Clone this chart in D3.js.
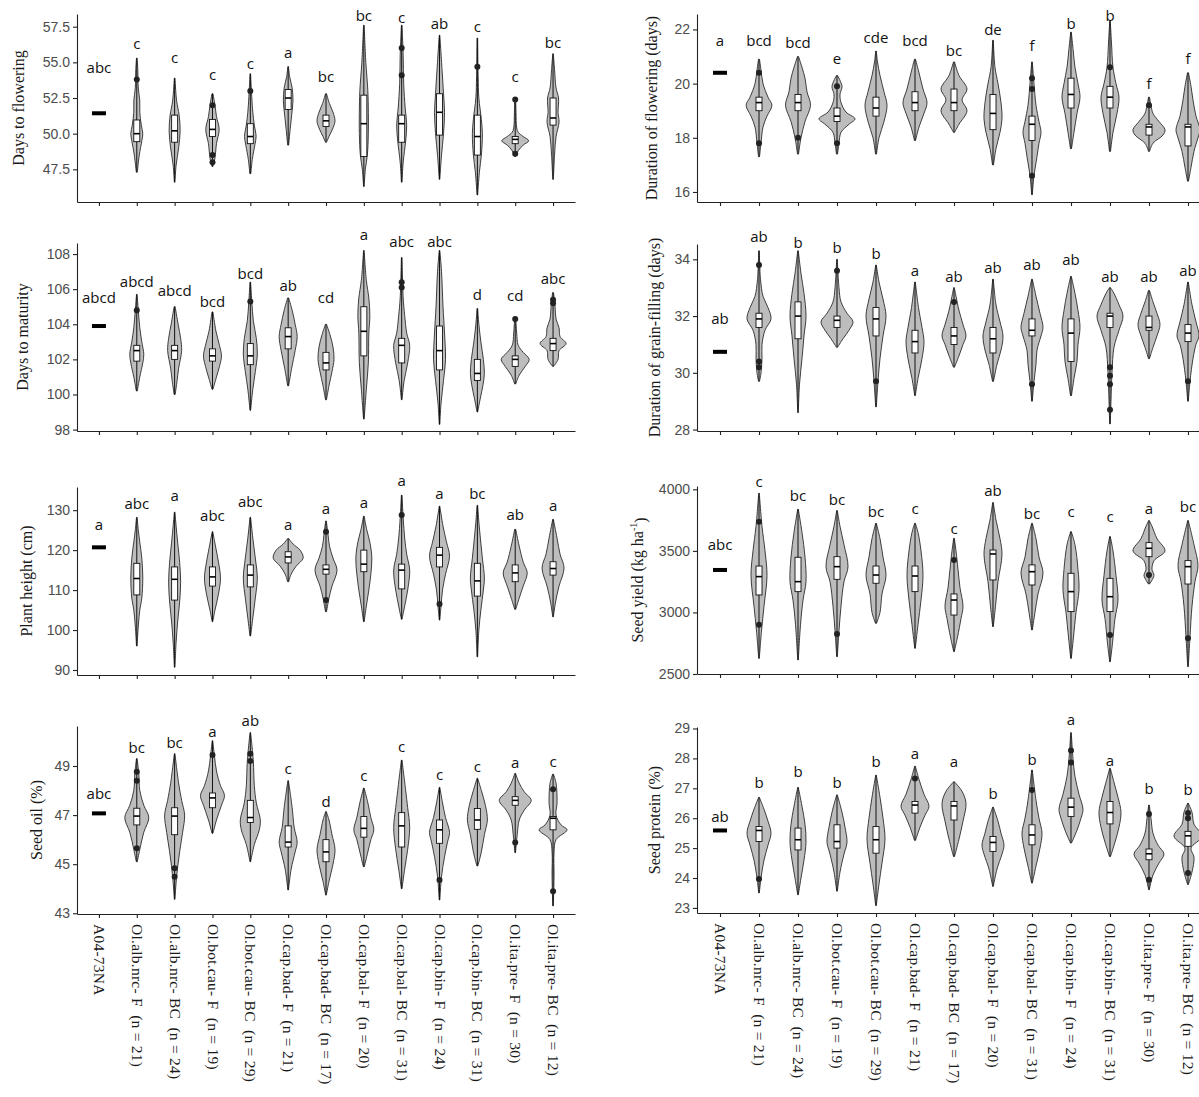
<!DOCTYPE html>
<html><head><meta charset="utf-8">
<script src="https://cdn.jsdelivr.net/npm/d3@7"></script>
<style>body{margin:0;background:#fff}</style>
</head><body>
<svg id="c" width="1199" height="1097"></svg>
<script>
const categories = ["A04-73NA","Ol.alb.nrc- F  (n = 21)","Ol.alb.nrc- BC  (n = 24)","Ol.bot.cau- F  (n = 19)","Ol.bot.cau- BC  (n = 29)","Ol.cap.bad- F  (n = 21)","Ol.cap.bad- BC  (n = 17)","Ol.cap.bal- F  (n = 20)","Ol.cap.bal- BC  (n = 31)","Ol.cap.bin- F  (n = 24)","Ol.cap.bin- BC  (n = 31)","Ol.ita.pre- F  (n = 30)","Ol.ita.pre- BC  (n = 12)"];

// ---------- Days to flowering ----------
const dtfTicks = [47.5,50,52.5,55,57.5];
const dtfCheck = 51.43;
const dtfLetters = ["abc","c","c","c","c","a","bc","bc","c","ab","c","c","bc"];
const dtfLetterAt = [54.6,56.3,55.3,54.1,54.9,55.7,54.0,58.3,58.1,57.7,57.5,54.0,56.4];
const dtfBox = [null,[49.44,50.0,50.96],[49.4,50.2,51.3],[49.8,50.3,51.0],[49.3,49.8,50.7],[51.7,52.5,53.1],[50.5,50.9,51.3],[48.4,50.7,52.7],[49.4,50.7,51.3],[49.9,51.5,52.8],[48.5,49.8,51.3],[49.3,49.6,49.8],[50.6,51.1,52.5]];
const dtfOut = [[],[53.8],[],[52.0,48.5,48.0],[53.0],[],[],[],[56.0,54.1],[],[54.7],[52.4,48.6],[]];
const dtfShape = [[],
 [[47.3,0.5],[48.5,2.5],[49.5,5],[50,6],[50.6,4.5],[51.5,3],[52.3,3],[53.2,1.5],[54.5,1],[55.3,0.3]],
 [[46.6,0.3],[47.8,1.5],[49,4],[50.2,5.5],[51.3,4.5],[52.3,2],[53.9,0.3]],
 [[47.7,0.5],[48.3,2.5],[49.3,4],[50.3,6.7],[51.2,4],[52,2.5],[52.8,0.5]],
 [[47.2,0.5],[48.2,2],[49.2,4.5],[49.8,5.8],[50.6,4],[51.5,2.5],[52.5,1.5],[54.2,0.3]],
 [[49.2,0.5],[50.3,2],[51.3,3.5],[52.3,4.8],[53.2,4],[54,1.5],[54.7,0.3]],
 [[49.4,0.5],[49.8,3],[50.4,7],[50.9,9],[51.5,7],[52.1,3.5],[52.8,0.5]],
 [[46.3,0.3],[47.5,1.5],[48.5,3.5],[50,4.5],[51.5,4.5],[53,4],[55,2],[57.6,0.3]],
 [[46.6,0.3],[48,1.5],[49.5,4],[50.6,5],[51.8,3.5],[53.5,2],[55.5,1.5],[57.6,0.3]],
 [[46.8,0.3],[48.5,2],[50,4],[51.5,5],[52.8,4],[54.5,2.5],[56.9,0.3]],
 [[45.7,0.3],[47.3,2],[48.5,4],[50,5],[51,4],[52.5,1.5],[54,0.8],[56.7,0.3]],
 [[48.4,0.5],[48.8,3],[49.2,8],[49.5,13.5],[49.8,8],[50.1,3],[50.4,1.5],[51.5,0.8],[52.4,0.5]],
 [[46.8,0.3],[48.5,1.5],[49.8,3],[50.8,6],[51.5,5],[52.5,5.5],[53.2,3],[54.5,1.5],[55.6,0.3]]];

// ---------- Duration of flowering ----------
const dofTicks = [16,18,20,22];
const dofCheck = 20.4;
const dofLetters = ["a","bcd","bcd","e","cde","bcd","bc","de","f","b","b","f","f"];
const dofLetterAt = [21.6,21.6,21.5,20.9,21.7,21.6,21.2,22.0,21.4,22.2,22.5,20.0,20.9];
const dofBox = [null,[19.0,19.3,19.5],[19.0,19.3,19.6],[18.6,18.8,19.1],[18.8,19.1,19.5],[19.0,19.3,19.7],[19.0,19.3,19.8],[18.3,18.9,19.6],[17.9,18.5,18.8],[19.1,19.6,20.2],[19.1,19.5,19.9],[18.1,18.4,18.5],[17.7,18.4,18.5]];
const dofOut = [[],[20.4,17.8],[18.0],[19.9,17.8],[],[],[],[],[20.2,19.8,16.6],[],[20.6],[19.2],[]];
const dofShape = [[],
 [[17.3,0.5],[17.8,2],[18.4,4],[18.8,8],[19.2,12.9],[19.5,9],[20,4],[20.5,2],[20.9,0.5]],
 [[17.4,0.5],[18,3],[18.6,7],[19.2,12.5],[19.7,9],[20.2,7],[20.6,4],[21,0.5]],
 [[17.4,0.5],[17.8,2],[18.2,4],[18.5,12],[18.7,18],[18.95,9],[19.3,4],[19.6,3],[19.9,5],[20.3,0.5]],
 [[17.4,0.5],[18,3],[18.6,8],[19.2,11],[19.7,8],[20.3,4],[20.8,1.5],[21.2,0.3]],
 [[17.9,0.5],[18.4,4],[18.9,9],[19.3,12],[19.8,8],[20.4,4],[20.9,0.5]],
 [[18.2,0.5],[18.5,5],[19,13],[19.4,8],[19.8,13],[20.3,5],[20.8,0.5]],
 [[17,0.5],[17.6,3],[18.2,7],[18.7,9],[19.3,8],[20,5],[20.6,2],[21.6,0.3]],
 [[15.9,0.3],[16.6,2],[17.3,5],[17.8,7],[18.2,9],[18.6,7],[19.2,4],[20,2],[20.8,0.3]],
 [[17.6,0.5],[18.2,3],[18.9,6],[19.5,9],[20,7],[20.6,4],[21.3,2],[21.9,0.3]],
 [[17.5,0.5],[18.2,3],[18.9,7],[19.5,9],[20,6],[20.6,3],[21.5,1.5],[22.3,0.3]],
 [[17.5,0.5],[17.8,4],[18.1,14],[18.3,16],[18.6,10],[18.9,4],[19.2,2],[19.5,0.5]],
 [[16.4,0.5],[16.9,3],[17.5,6],[18.0,10],[18.3,12],[18.8,8],[19.4,5],[19.9,3],[20.4,0.5]]];

// ---------- Days to maturity ----------
const dtmTicks = [98,100,102,104,106,108];
const dtmCheck = 103.9;
const dtmLetters = ["abcd","abcd","abcd","bcd","bcd","ab","cd","a","abc","abc","d","cd","abc"];
const dtmLetterAt = [105.5,106.4,105.9,105.3,106.9,106.2,105.5,109.1,108.7,108.7,105.7,105.6,106.6];
const dtmBox = [null,[101.9,102.5,102.8],[102.0,102.5,102.8],[101.9,102.2,102.6],[101.7,102.2,102.9],[102.6,103.3,103.8],[101.4,101.8,102.4],[102.2,103.6,105.0],[101.8,102.8,103.2],[101.4,102.5,103.9],[100.8,101.2,102.0],[101.6,102.0,102.2],[102.5,102.9,103.2]];
const dtmOut = [[],[104.8],[],[],[105.3],[],[],[],[106.4,106.1],[],[],[104.3],[105.4,105.2]];
const dtmShape = [[],
 [[100.2,0.5],[101,3],[101.8,6],[102.3,7],[103,5],[103.8,3],[104.8,1.5],[105.7,0.3]],
 [[100,0.5],[100.8,2.5],[101.5,4],[102.5,7],[103.2,6],[104,3.5],[105,0.5]],
 [[100.3,0.5],[101,4],[101.6,7],[102.2,9],[102.8,7],[103.6,3.5],[104.7,0.5]],
 [[99.1,0.3],[100.3,2.5],[101.3,5],[102.3,7],[103.2,6],[104.2,3],[105.3,1.5],[106.4,0.3]],
 [[100.5,0.5],[101.5,3.5],[102.5,7],[103.3,9],[104,7],[104.8,4],[105.5,0.5]],
 [[99.7,0.5],[100.5,3],[101.3,6],[102,8],[102.7,7],[103.4,4],[104,0.5]],
 [[98.6,0.3],[100.3,2.5],[101.8,4.5],[103.5,5],[104.5,6],[105.5,5],[106.5,2.5],[108.2,0.3]],
 [[99.7,0.3],[100.8,2.5],[101.8,6],[102.8,8],[103.5,5],[104.5,3],[105.5,1.5],[107.8,0.3]],
 [[98.3,0.3],[99.5,1.5],[100.8,4],[102,6],[103.5,5],[105,3.5],[107,2],[108.2,0.3]],
 [[99,0.3],[99.8,3],[100.5,5.5],[101.2,7],[102,6],[103,3.5],[104,1.5],[104.9,0.3]],
 [[100.6,0.5],[101.1,4],[101.6,10],[102,14],[102.4,8],[102.8,3],[103.5,1.5],[104.4,0.5]],
 [[101.6,0.5],[102,5],[102.5,6],[102.9,13],[103.3,7],[103.8,6],[104.3,3],[105,2],[105.8,0.5]]];

// ---------- Duration of grain-filling ----------
const dgfTicks = [28,30,32,34];
const dgfCheck = 30.74;
const dgfLetters = ["ab","ab","b","b","b","a","ab","ab","ab","ab","ab","ab","ab"];
const dgfLetterAt = [31.9,34.8,34.6,34.4,34.2,33.6,33.4,33.7,33.8,34.0,33.4,33.4,33.6];
const dgfBox = [null,[31.6,31.9,32.1],[31.2,32.0,32.5],[31.6,31.85,32.0],[31.3,31.9,32.3],[30.7,31.1,31.5],[31.0,31.3,31.6],[30.7,31.2,31.6],[31.3,31.5,31.9],[30.4,31.4,31.9],[31.6,32.0,32.1],[31.5,31.6,32.0],[31.1,31.4,31.7]];
const dgfOut = [[],[33.8,30.4,30.2],[],[33.6],[29.7],[],[32.5],[],[29.6],[],[30.2,29.9,29.6,28.7],[],[29.7]];
const dgfShape = [[],
 [[29.7,0.5],[30,2],[30.5,3],[31,3],[31.5,6],[31.9,12],[32.3,9],[32.7,4],[33.3,1.5],[34.3,0.3]],
 [[28.6,0.3],[29.6,1.5],[30.5,4],[31.3,6],[32,8],[32.8,6],[33.5,3],[34.3,0.3]],
 [[30.9,0.5],[31.2,6],[31.5,12],[31.8,16],[32.1,10],[32.5,4],[33,2],[34,0.3]],
 [[28.8,0.3],[29.7,2],[30.5,4],[31.3,7],[32,10],[32.6,7],[33.2,3],[33.8,0.3]],
 [[29.2,0.3],[29.8,3],[30.5,7],[31.1,9],[31.6,7],[32.3,3.5],[33.2,0.3]],
 [[30.2,0.5],[30.6,5],[31,9],[31.3,12],[31.7,9],[32.2,5],[32.7,2],[33,0.3]],
 [[29.7,0.5],[30.3,4],[30.8,8],[31.3,10],[31.8,7],[32.4,3],[33.3,0.3]],
 [[29,0.3],[29.7,2],[30.3,4],[30.8,5],[31.3,9],[31.6,11],[32.1,8],[32.7,4],[33.3,0.3]],
 [[29.2,0.5],[29.8,3],[30.4,6],[31,7],[31.6,9],[32.2,7],[32.8,4],[33.4,0.3]],
 [[28.2,0.3],[29,1],[30,2],[30.9,4],[31.5,9],[32,13],[32.4,9],[32.8,4],[33,0.5]],
 [[30.5,0.5],[30.9,4],[31.3,8],[31.7,11],[32.1,8],[32.5,4],[32.9,0.5]],
 [[29,0.3],[29.7,2],[30.5,5],[31,8],[31.3,11],[31.8,8],[32.4,4],[33.2,0.3]]];

// ---------- Plant height ----------
const phTicks = [90,100,110,120,130];
const phCheck = 120.7;
const phLetters = ["a","abc","a","abc","abc","a","a","a","a","a","bc","ab","a"];
const phLetterAt = [126.3,131.5,133.5,128.5,132.1,126.3,130.4,131.8,137.3,134.2,134.2,128.75,131.0];
const phBox = [null,[108.8,112.9,116.7],[107.5,112.7,115.8],[111.0,113.3,115.8],[110.8,113.75,116.3],[116.8,118.3,119.6],[114.0,115.2,116.3],[114.6,116.5,120.0],[110.3,115.0,116.5],[115.8,118.75,120.7],[108.5,112.3,116.7],[112.1,114.3,116.3],[113.75,115.4,117.1]];
const phOut = [[],[],[],[],[],[],[124.6,107.5],[],[128.8],[106.5],[],[],[]];
const phShape = [[],
 [[96,0.3],[101,1.5],[105,3],[108,5],[113,6],[118,5],[122,3],[125,1.5],[128.2,0.3]],
 [[90.7,0.3],[97,1.5],[102,3],[107,5],[112,6],[117,5],[122,3],[126,1.5],[129.5,0.3]],
 [[102.1,0.3],[105,2.5],[109,6],[113,8],[117,6],[121,3],[124.6,0.3]],
 [[98.5,0.3],[103,2.5],[108,5],[113,7],[118,5],[123,2.5],[128.2,0.3]],
 [[112.1,0.5],[114,3],[116,8],[118,15],[120,12],[121.5,5],[122.9,0.5]],
 [[104.6,0.5],[108,3],[111,6],[115,11],[118,7],[121,3.5],[124,2],[127.3,0.3]],
 [[102.1,0.3],[106,2.5],[110,5],[114,7],[118,8],[122,6],[125,3],[128.5,0.3]],
 [[102.7,0.3],[106,3],[110,6],[115,8],[119,5],[123,3],[128,1.5],[133.75,0.3]],
 [[102.5,0.3],[106,1.5],[110,3],[114,6],[118.5,10],[122,7],[126,3.5],[131,0.3]],
 [[93.3,0.3],[100,1.5],[105,3.5],[110,6],[113,7],[118,5],[123,3],[127,1.5],[131.2,0.3]],
 [[105.2,0.5],[108,4],[111,8],[114.3,12],[117,8],[121,4],[125.2,0.5]],
 [[103.3,0.3],[107,2.5],[111,6],[115.5,11],[119,7],[123,4],[127.7,0.3]]];

// ---------- Seed yield ----------
const syTicks = [2500,3000,3500,4000];
const syCheck = 3345;
const syLetters = ["abc","c","bc","bc","bc","c","c","ab","bc","c","c","a","bc"];
const syLetterAt = [3548,4062,3946,3913,3819,3846,3683,3989,3805,3819,3778,3846,3859];
const syBox = [null,[3142,3291,3377],[3169,3250,3448],[3269,3372,3453],[3237,3304,3377],[3169,3296,3377],[2979,3101,3150],[3264,3475,3507],[3223,3331,3386],[3007,3169,3318],[3007,3128,3277],[3453,3521,3567],[3231,3372,3421]];
const syOut = [[],[3737,2900],[],[2825],[],[],[3426],[],[],[],[2817],[3304],[2790]];
const syShape = [[],
 [[2627,0.3],[2850,2.5],[3050,5],[3300,8],[3500,6],[3700,3],[3968,0.3]],
 [[2614,0.3],[2900,2.5],[3100,5],[3250,8],[3450,7],[3650,4],[3838,0.3]],
 [[2641,0.3],[2850,2],[3050,4],[3250,7],[3370,11],[3550,7],[3700,3],[3827,0.3]],
 [[2912,0.5],[3000,4],[3150,6],[3300,10],[3450,7],[3600,4],[3724,0.3]],
 [[2709,0.3],[2900,3],[3100,6],[3300,8],[3500,6],[3650,3],[3724,0.3]],
 [[2682,0.3],[2800,3.5],[2950,7],[3050,9],[3200,6],[3350,4],[3500,2],[3602,0.3]],
 [[2885,0.3],[3050,2.5],[3250,5],[3470,9],[3600,7],[3750,3],[3892,0.3]],
 [[2858,0.3],[3000,3],[3150,6],[3320,11],[3450,7],[3600,4],[3724,0.3]],
 [[2627,0.3],[2800,2.5],[3000,5],[3180,8],[3350,7],[3550,4],[3656,0.3]],
 [[2600,0.3],[2750,2.5],[2950,5],[3100,8],[3300,6],[3500,3],[3616,0.3]],
 [[3231,0.5],[3300,5],[3350,3],[3420,5],[3500,16],[3600,8],[3700,3],[3746,0.3]],
 [[2560,0.3],[2800,2],[3050,4],[3250,7],[3380,10],[3550,6],[3746,0.3]]];

// ---------- Seed oil ----------
const soTicks = [43,45,47,49];
const soCheck = 47.07;
const soLetters = ["abc","bc","bc","a","ab","c","d","c","c","c","c","a","c"];
const soLetterAt = [47.86,49.76,49.95,50.4,50.85,48.9,47.55,48.6,49.8,48.63,48.97,49.14,49.18];
const soBox = [null,[46.6,46.96,47.28],[46.2,46.96,47.3],[47.3,47.7,47.9],[46.7,46.9,47.6],[45.7,45.9,46.56],[45.1,45.5,46.0],[46.1,46.46,46.94],[45.7,46.56,47.1],[45.85,46.4,46.8],[46.42,46.8,47.27],[47.4,47.6,47.75],[46.4,46.87,46.94]];
const soOut = [[],[48.77,48.4,45.65],[44.83,44.49],[49.45],[49.5,49.2],[],[],[],[],[44.36],[],[45.88],[48.05,43.9]];
const soShape = [[],
 [[45.1,0.5],[45.6,3],[46.3,7],[46.9,12],[47.4,7],[48,3],[48.7,2],[49.3,0.3]],
 [[43.57,0.3],[44.5,2],[45.5,5],[46.3,8],[47,10],[47.6,7],[48.3,4],[49.5,0.3]],
 [[46.26,0.5],[46.8,4],[47.4,9],[47.8,12],[48.2,8],[48.8,4],[49.4,2],[50.03,0.3]],
 [[45.1,0.3],[45.8,4],[46.4,9],[46.8,10],[47.5,6],[48.2,4],[49.2,3],[50.36,0.3]],
 [[43.95,0.3],[44.8,3],[45.5,7],[45.9,9],[46.5,6],[47.3,4],[48.4,0.3]],
 [[43.74,0.3],[44.3,3],[45,7],[45.6,9],[46.2,6],[46.8,3],[47.14,0.3]],
 [[44.9,0.5],[45.5,4],[46,7],[46.4,10],[46.9,7],[47.5,4],[48.1,0.3]],
 [[44,0.3],[44.8,3],[45.6,6],[46.5,8],[47.3,6],[48,4],[49.24,0.3]],
 [[43.54,0.3],[44.5,2],[45.3,5],[45.9,8],[46.3,10],[46.9,6],[47.5,3],[48.13,0.3]],
 [[44.93,0.5],[45.5,4],[46.2,7],[46.8,10],[47.4,8],[48,4],[48.5,0.3]],
 [[45.47,0.3],[46.2,2],[46.8,4],[47.2,9],[47.6,16],[47.95,9],[48.3,4],[48.7,0.3]],
 [[43.3,0.3],[44.5,1],[45.5,1],[46,3],[46.4,14],[46.6,8],[47,3],[47.5,4],[48.3,3],[48.67,0.3]]];

// ---------- Seed protein ----------
const spTicks = [23,24,25,26,27,28,29];
const spCheck = 25.59;
const spLetters = ["ab","b","b","b","b","a","a","b","b","a","a","b","b"];
const spLetterAt = [26.06,27.19,27.56,27.17,27.89,28.17,27.89,26.83,27.94,29.28,27.92,27.0,26.94];
const spBox = [null,[25.22,25.59,25.72],[24.94,25.28,25.67],[25.0,25.22,25.78],[24.83,25.28,25.72],[26.17,26.44,26.56],[25.94,26.41,26.56],[24.89,25.19,25.39],[25.11,25.44,25.78],[26.06,26.37,26.67],[25.81,26.19,26.56],[24.61,24.81,24.97],[25.06,25.41,25.56]];
const spOut = [[],[23.97],[],[],[],[27.33],[],[],[26.94],[28.26,27.86],[],[26.14,23.94],[26.17,26.0,24.17]];
const spShape = [[],
 [[23.5,0.3],[24,2],[24.6,5],[25.1,9],[25.5,12],[25.9,9],[26.3,5],[26.7,0.3]],
 [[23.44,0.3],[24,3],[24.6,6],[25.2,8],[25.8,7],[26.4,4],[27.03,0.3]],
 [[23.56,0.3],[24.2,3],[24.8,7],[25.2,10],[25.7,8],[26.2,5],[26.78,0.3]],
 [[23.08,0.3],[23.8,3],[24.5,6],[25.3,9],[26,7],[26.7,4],[27.44,0.3]],
 [[25.26,0.5],[25.7,5],[26.1,10],[26.4,14],[26.8,9],[27.3,4],[27.74,0.3]],
 [[24.72,0.5],[25.3,5],[25.9,9],[26.5,12],[26.9,8],[27.22,0.3]],
 [[23.72,0.3],[24.3,4],[24.8,9],[25.1,11],[25.5,8],[25.9,5],[26.37,0.3]],
 [[23.83,0.3],[24.4,4],[25,8],[25.5,10],[26,7],[26.6,4],[27.61,0.3]],
 [[25.17,0.5],[25.6,6],[26,10],[26.3,12],[26.8,8],[27.4,4],[28,2],[28.86,0.3]],
 [[24.72,0.5],[25.2,5],[25.7,9],[26.2,11],[26.7,8],[27.2,4],[27.67,0.3]],
 [[23.61,0.3],[24.1,4],[24.5,10],[24.8,15],[25.1,9],[25.5,4],[26,2],[26.44,0.3]],
 [[23.78,0.3],[24.2,4],[24.7,6],[25,3],[25.4,14],[25.8,6],[26.2,4],[26.5,0.3]]];

// ---------- layout ----------
const colX = [{axis:77, end:575, pad:0.58}, {axis:697, end:1211, pad:0.59}];
const panels = [
 {title:["Days to flowering"], col:0, top:14, bottom:202, domain:[45.21,58.39], titleX:18, ticks:dtfTicks, fmt:".1f", check:dtfCheck, letters:dtfLetters, letterAt:dtfLetterAt, box:dtfBox, out:dtfOut, shape:dtfShape, labels:false},
 {title:["Duration of flowering (days)"], col:1, top:14, bottom:202, domain:[15.63,22.57], titleX:651, ticks:dofTicks, fmt:"d", check:dofCheck, letters:dofLetters, letterAt:dofLetterAt, box:dofBox, out:dofOut, shape:dofShape, labels:false},
 {title:["Days to maturity"], col:0, top:243, bottom:431, domain:[97.92,108.63], titleX:22, ticks:dtmTicks, fmt:"d", check:dtmCheck, letters:dtmLetters, letterAt:dtmLetterAt, box:dtmBox, out:dtmOut, shape:dtmShape, labels:false},
 {title:["Duration of grain-filling (days)"], col:1, top:244, bottom:431, domain:[27.95,34.54], titleX:654, ticks:dgfTicks, fmt:"d", check:dgfCheck, letters:dgfLetters, letterAt:dgfLetterAt, box:dgfBox, out:dgfOut, shape:dgfShape, labels:false},
 {title:["Plant height (cm)"], col:0, top:487, bottom:675, domain:[88.75,135.8], titleX:26, ticks:phTicks, fmt:"d", check:phCheck, letters:phLetters, letterAt:phLetterAt, box:phBox, out:phOut, shape:phShape, labels:false},
 {title:["Seed yield (kg ha","-1",")"], col:1, top:486, bottom:674, domain:[2500,4027], titleX:637, ticks:syTicks, fmt:"d", check:syCheck, letters:syLetters, letterAt:syLetterAt, box:syBox, out:syOut, shape:syShape, labels:false},
 {title:["Seed oil (%)"], col:0, top:726, bottom:914, domain:[42.97,50.63], titleX:36, ticks:soTicks, fmt:"d", check:soCheck, letters:soLetters, letterAt:soLetterAt, box:soBox, out:soOut, shape:soShape, labels:true},
 {title:["Seed protein (%)"], col:1, top:727, bottom:913, domain:[22.83,29.05], titleX:654, ticks:spTicks, fmt:"d", check:spCheck, letters:spLetters, letterAt:spLetterAt, box:spBox, out:spOut, shape:spShape, labels:true}
];

const svg = d3.select("#c");
svg.append("rect").attr("width",1199).attr("height",1097).attr("fill","#fff");
const wScale = d3.scaleLinear().domain([0,1]).range([0,1]);
const SANS = "'Liberation Sans', Arial, sans-serif";
const SERIF = "'Liberation Serif', 'Times New Roman', serif";
const LETTER = "'Open Sans', 'Noto Sans', sans-serif";

panels.forEach(p => {
  const c = colX[p.col];
  const x = d3.scalePoint().domain(categories).range([c.axis, c.end]).padding(c.pad);
  const y = d3.scaleLinear().domain(p.domain).range([p.bottom, p.top]);
  const g = svg.append("g");

  // axes
  const ya = g.append("g").attr("transform",`translate(${c.axis},0)`)
    .call(d3.axisLeft(y).tickValues(p.ticks).tickSize(4).tickSizeOuter(0).tickPadding(3).tickFormat(d3.format(p.fmt)));
  ya.selectAll("text").attr("font-family",SANS).attr("font-size",14).attr("fill","#4d4d4d");
  ya.selectAll("line,path").attr("stroke","#222").attr("stroke-width",1.1);

  const xa = g.append("g").attr("transform",`translate(0,${p.bottom})`)
    .call(d3.axisBottom(x).tickSize(4).tickSizeOuter(0).tickFormat(p.labels ? (d=>d) : ""));
  xa.selectAll("line,path").attr("stroke","#222").attr("stroke-width",1.1);
  if (p.labels) {
    xa.selectAll("text").attr("transform","rotate(90)").attr("text-anchor","start")
      .attr("x",10).attr("y",0).attr("dy","0.35em")
      .attr("font-family",SERIF).attr("font-size",15.5).attr("letter-spacing",0.25).attr("fill","#1a1a1a")
      .style("white-space","pre");
  }

  // title
  const t = g.append("text")
    .attr("transform",`translate(${p.titleX},${(p.top+p.bottom)/2}) rotate(-90)`)
    .attr("text-anchor","middle").attr("dy","0.35em")
    .attr("font-family",SERIF).attr("font-size",16).attr("fill","#1a1a1a");
  t.append("tspan").text(p.title[0]);
  if (p.title.length > 1) {
    t.append("tspan").attr("font-size",10).attr("dy","-0.6em").text(p.title[1]);
    t.append("tspan").attr("dy","0.6em").text(p.title[2]);
  }

  const area = d3.area()
    .y(d => y(d[0]))
    .curve(d3.curveCatmullRom.alpha(0.5));

  categories.forEach((cat, i) => {
    const cx = x(cat);
    if (i === 0) {
      g.append("rect").attr("x",cx-7).attr("y",y(p.check)-2).attr("width",14).attr("height",4).attr("fill","#000");
    } else {
      const sh = p.shape[i];
      g.append("path").datum(sh)
        .attr("d", area.x0(d => cx - wScale(d[1])).x1(d => cx + wScale(d[1])))
        .attr("fill","#bdbdbd").attr("stroke","#2b2b2b").attr("stroke-width",0.9);
      g.append("line").attr("x1",cx).attr("x2",cx)
        .attr("y1",y(sh[0][0])).attr("y2",y(sh[sh.length-1][0]))
        .attr("stroke","#111").attr("stroke-width",1);
      const b = p.box[i];
      g.append("rect").attr("x",cx-3).attr("width",6)
        .attr("y",y(b[2])).attr("height",y(b[0])-y(b[2]))
        .attr("fill","#fff").attr("stroke","#111").attr("stroke-width",0.9);
      g.append("line").attr("x1",cx-3).attr("x2",cx+3).attr("y1",y(b[1])).attr("y2",y(b[1]))
        .attr("stroke","#000").attr("stroke-width",1.6);
      p.out[i].forEach(v => {
        g.append("circle").attr("cx",cx).attr("cy",y(v)).attr("r",3).attr("fill","#222");
      });
    }
    g.append("text").attr("x",cx).attr("y",y(p.letterAt[i])).attr("dy","0.35em")
      .attr("text-anchor","middle").attr("font-family",LETTER).attr("font-size",15)
      .attr("fill","#111").text(p.letters[i]);
  });
});
</script>
</body></html>
